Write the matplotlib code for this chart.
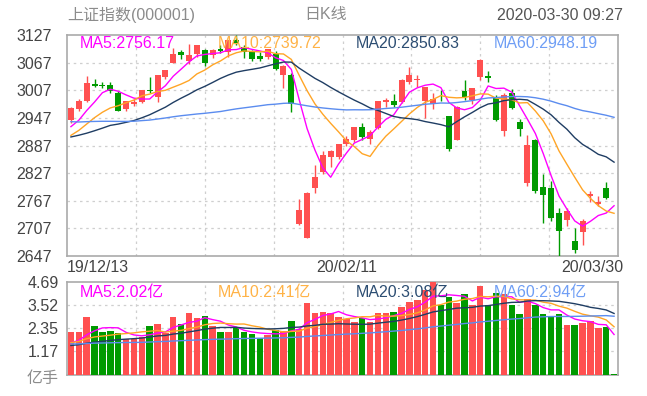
import numpy as np
import matplotlib.pyplot as plt

plt.rcParams['font.family'] = ['Liberation Sans', 'Noto Sans CJK SC', 'DejaVu Sans']

# header / axis text
title_left = '上证指数(000001)'
title_mid = '日K线'
title_right = '2020-03-30 09:27'
date_labels = ['19/12/13', '20/02/11', '20/03/30']
date_idx = [0, 35, 69]
price_ticks = [2647, 2707, 2767, 2827, 2887, 2947, 3007, 3067, 3127]
vol_ticks = [1.17, 2.35, 3.52, 4.69]
ma_periods = [5, 10, 20, 60]
ma_price_text = ['2756.17', '2739.72', '2850.83', '2948.19']
ma_vol_text = ['2.02', '2.41', '3.08', '2.94']

# closes before the window (needed for MA60 at the left edge)
prior_close = [3030.75, 2978.12, 2985.66, 2999.28, 3006.45, 2977.08, 2985.34, 2955.43, 2929.09, 2932.17, 2905.19,
               2913.57, 2924.86, 2947.71, 2973.66, 2991.05, 2976.66, 2977.33, 2977.15, 2938.14, 2939.62, 2954.38,
               2941.62, 2940.92, 2954.93, 2980.05, 2954.18, 2939.32, 2929.06,
               2958.20, 2975.49, 2991.56, 2978.60, 2978.71, 2964.18, 2909.97, 2914.82, 2905.24, 2909.87, 2891.34,
               2909.20, 2933.99, 2911.05, 2903.64, 2885.29, 2906.17, 2907.06, 2903.19, 2889.69, 2871.98,
               2875.81, 2884.70, 2878.12, 2899.47, 2912.01, 2914.48, 2917.32, 2924.42, 2915.70]

opens = [2942, 2967, 2984, 3021, 3019, 3018, 3002, 2966, 2978, 2981,
         3008, 2993, 3036, 3066, 3089, 3070, 3086, 3095, 3083, 3097,
         3091, 3116, 3100, 3091, 3081, 3080, 3086, 3040, 3040, 2716.7,
         2685.27, 2794, 2830, 2862, 2862, 2890, 2898, 2927, 2902, 2924,
         2981, 2983, 2982, 3025, 3029, 2983, 2978, 2993, 2950, 2900,
         3006, 2985, 3036, 3039, 2990, 2918, 3002, 2937, 2805, 2899,
         2797, 2794, 2740, 2725, 2679, 2700, 2778, 2761, 2794, 2739.72]
highs = [2970, 2987, 3039, 3031, 3025, 3026, 3005, 2984, 2988, 3008,
         3036, 3041, 3051, 3098, 3094, 3107, 3105, 3097, 3097, 3105,
         3117, 3127.17, 3106, 3094, 3091, 3096, 3092, 3062, 3045, 2770,
         2787, 2844, 2876, 2877, 2891, 2907, 2927, 2935, 2920, 2984,
         2990, 2999, 3031, 3058, 3040, 3015, 3001, 3008, 2951, 2972,
         3029, 3012, 3075, 3048, 2996, 3000, 3010, 2944, 2910, 2902,
         2826, 2810, 2752, 2751, 2707, 2727, 2788, 2778, 2808, 2739.72]
lows = [2935, 2961, 2982, 3014, 3012, 3000, 2961, 2962, 2973, 2979,
        3000, 2982, 3032, 3066, 3074, 3065, 3080, 3059, 3078, 3087,
        3079, 3105, 3078, 3070, 3070, 3075, 3050, 3012, 2960, 2714,
        2685.27, 2784, 2825, 2841, 2858, 2885, 2895, 2900, 2890, 2922,
        2970, 2970, 2980, 3021, 3015, 2946, 2966, 2983, 2876, 2900,
        2985, 2978, 3030, 3025, 2940, 2907, 2966, 2908, 2800, 2784,
        2719, 2724, 2646.8, 2712, 2653, 2670, 2765, 2756, 2771, 2739.72]
closes = [2967.68, 2984.39, 3022.42, 3017.04, 3017.07, 3004.94, 2962.75, 2982.68, 2981.88, 3007.35,
          3005.04, 3040.02, 3050.12, 3085.20, 3083.79, 3083.41, 3104.80, 3066.89, 3094.88, 3092.29,
          3115.57, 3106.82, 3090.04, 3074.08, 3075.50, 3095.79, 3052.14, 3060.75, 2976.53, 2746.61,
          2783.29, 2818.09, 2866.51, 2875.96, 2890.49, 2901.67, 2926.90, 2906.07, 2917.01, 2983.62,
          2984.97, 2975.40, 3030.15, 3039.67, 3031.23, 3013.05, 2987.93, 2991.33, 2880.30, 2970.93,
          2992.90, 3011.67, 3071.68, 3034.51, 2943.29, 2996.76, 2968.52, 2923.49, 2887.43, 2789.25,
          2779.64, 2728.76, 2702.13, 2745.62, 2660.17, 2722.44, 2781.59, 2764.91, 2772.20, 2739.72]

# volume in 亿手
prior_vol = [1.85, 1.75, 1.55, 1.6, 1.65, 1.55, 1.45, 1.55, 1.6, 1.5, 1.4,
             1.5, 1.5, 1.65, 1.85, 2.0, 1.75, 1.6, 1.55, 1.65, 1.5, 1.55, 1.55, 1.5, 1.55, 1.8, 1.65, 1.55, 1.45,
             1.55, 1.7, 1.8, 1.6, 1.5, 1.5, 1.65, 1.45, 1.35, 1.35, 1.3, 1.3, 1.45, 1.35, 1.35, 1.3, 1.3, 1.25,
             1.3, 1.35, 1.3,
             1.5, 1.55, 1.55, 1.7, 1.75, 1.55, 1.5, 1.45, 1.4]
volume = [2.13, 2.13, 2.92, 2.45, 2.13, 2.20, 2.08, 1.79, 1.79, 1.91,
          2.45, 2.53, 2.08, 2.92, 2.53, 3.09, 2.83, 2.97, 2.43, 2.13,
          2.13, 2.33, 2.13, 2.03, 1.86, 1.99, 2.25, 2.20, 2.70, 2.30,
          3.62, 3.09, 3.17, 3.09, 2.92, 2.80, 2.65, 2.83, 2.65, 3.09,
          3.09, 3.17, 3.42, 3.64, 3.76, 4.26, 4.68, 3.50, 3.90, 3.59,
          4.05, 3.51, 4.45, 3.50, 4.10, 4.05, 3.50, 3.04, 3.80, 3.50,
          3.04, 2.92, 3.04, 2.50, 2.50, 2.60, 2.70, 2.35, 2.40, 0.05]

RED = '#ff5050'
GREEN = '#009a00'
MA_COLORS = ['#ff00ff', '#ffa526', '#1f3d63', '#5b8cef']
MA_TEXT_COLORS = ['#ff00ff', '#ffb347', '#2c4d72', '#6f9ef5']
GRID = '#cfcfcf'
SPINE = '#aaaaaa'
FS = 11.5


def moving_avg(prior, vals, n):
    allv = np.array(prior + vals, dtype=float)
    out = np.convolve(allv, np.ones(n) / n, mode='valid')
    return out[-len(vals):]


def px(x, y):
    return x / 647, 1 - y / 396


n = len(closes)
x = np.arange(n)
o = np.array(opens)
c = np.array(closes)
prev = np.array([prior_close[-1]] + closes[:-1])
up = (c > o) | ((c == o) & (c >= prev))
colors = np.where(up, RED, GREEN)

fig = plt.figure(figsize=(6.47, 3.96), dpi=100)
ax = fig.add_axes([67 / 647, 1 - 256 / 396, 551 / 647, 221 / 396])
axv = fig.add_axes([67 / 647, 1 - 374.6 / 396, 551 / 647, 93.1 / 396])

vgrid = [-0.5 + n * k / 8 for k in range(1, 8)]

# price panel
ax.vlines(x, lows, highs, colors=colors, lw=1.0, zorder=3)
body = np.maximum(np.abs(c - o), 1.2)
ax.bar(x, body, bottom=np.minimum(o, c), width=0.76, color=colors, lw=0, zorder=4)
for p, col in zip(ma_periods, MA_COLORS):
    ax.plot(x, moving_avg(prior_close, closes, p), color=col, lw=1.0, zorder=5)
ax.set_xlim(-0.5, n - 0.5)
ax.set_ylim(price_ticks[0], price_ticks[-1])
for t in price_ticks[1:-1]:
    ax.axhline(t, color=GRID, lw=0.9, ls=(0, (2, 3)), zorder=1)
for g in vgrid:
    ax.axvline(g, color=GRID, lw=0.9, ls=(0, (2, 3)), zorder=1)
ax.set_yticks(price_ticks)
ax.set_yticklabels([str(t) for t in price_ticks], fontsize=FS, color='#444444')
ax.tick_params(axis='y', length=0, pad=11)
ax.set_xticks([])
for i, (p, txt) in enumerate(zip(ma_periods, ma_price_text)):
    ax.text(0.024 + 0.25 * i, 0.962, f'MA{p}:{txt}', transform=ax.transAxes,
            color=MA_TEXT_COLORS[i], fontsize=FS, va='center', ha='left', zorder=6)

# volume panel
axv.bar(x, volume, width=0.82, color=colors, lw=0, zorder=3)
for p, col in zip(ma_periods, MA_COLORS):
    axv.plot(x, moving_avg(prior_vol, volume, p), color=col, lw=1.0, zorder=5)
axv.set_xlim(-0.5, n - 0.5)
axv.set_ylim(0, vol_ticks[-1])
for t in vol_ticks[:-1]:
    axv.axhline(t, color=GRID, lw=0.9, ls=(0, (2, 3)), zorder=1)
for g in vgrid:
    axv.axvline(g, color=GRID, lw=0.9, ls=(0, (2, 3)), zorder=1)
axv.set_yticks(vol_ticks)
axv.set_yticklabels([f'{t:.2f}' for t in vol_ticks], fontsize=FS, color='#444444')
axv.tick_params(axis='y', length=0, pad=6)
axv.set_xticks([])
for i, (p, txt) in enumerate(zip(ma_periods, ma_vol_text)):
    axv.text(0.024 + 0.25 * i, 0.88, f'MA{p}:{txt}亿', transform=axv.transAxes,
             color=MA_TEXT_COLORS[i], fontsize=FS, va='center', ha='left', zorder=6)

for a in (ax, axv):
    for s in a.spines.values():
        s.set_color(SPINE)
        s.set_linewidth(1.2)

# header and date labels
fig.text(*px(67, 15), title_left, color='#8c8c8c', fontsize=FS, va='center', ha='left')
fig.text(*px(326, 15), title_mid, color='#8c8c8c', fontsize=FS, va='center', ha='center')
fig.text(*px(623, 15), title_right, color='#555555', fontsize=FS, va='center', ha='right')

has = ['left', 'center', 'right']
for lab, idx, ha in zip(date_labels, date_idx, has):
    xd = {'left': 67, 'center': 67 + 551 * (idx + 0.5) / n, 'right': 623}[ha]
    fig.text(*px(xd, 268), lab, color='#444444', fontsize=FS, va='center', ha=ha)
fig.text(*px(59, 379), '亿手', color='#8c8c8c', fontsize=FS, va='center', ha='right')

fig.savefig('out.png', dpi=100, facecolor='white')
